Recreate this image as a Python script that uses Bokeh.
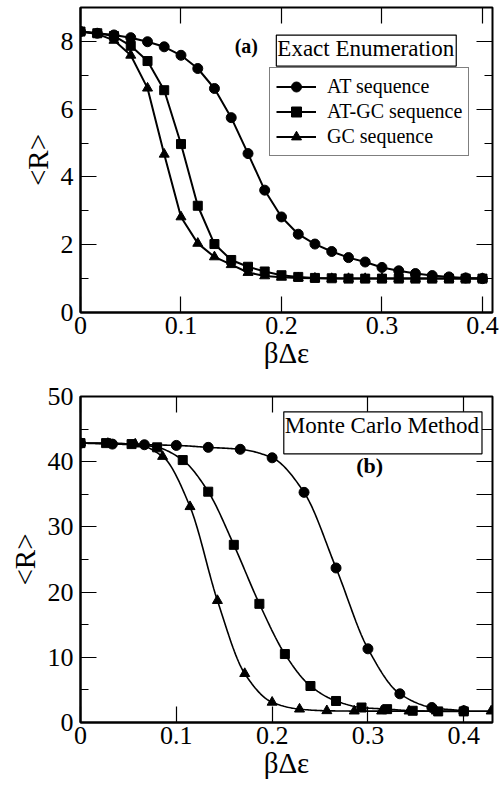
import numpy as np
from bokeh.plotting import figure
from bokeh.layouts import column
from bokeh.models import FixedTicker, Label, Legend, LegendItem, LinearAxis, Range1d
from bokeh.embed import file_html
from bokeh.resources import INLINE

FONT = "Liberation Serif"

# ---------------- data: (a) exact enumeration ----------------
a_x = [0, 0.0167, 0.0333, 0.05, 0.0667, 0.0833, 0.1, 0.1167, 0.1333, 0.15, 0.1667,
       0.1833, 0.2, 0.2167, 0.2333, 0.25, 0.2667, 0.2833, 0.3, 0.3167, 0.3333,
       0.35, 0.3667, 0.3833, 0.4]
a_at = [8.29, 8.24, 8.19, 8.11, 7.99, 7.84, 7.59, 7.20, 6.61, 5.75, 4.69, 3.61, 2.82,
        2.31, 2.02, 1.80, 1.62, 1.49, 1.33, 1.23, 1.15, 1.09, 1.05, 1.02, 1.00]
a_atgc = [8.29, 8.24, 8.16, 7.87, 7.42, 6.56, 4.97, 3.15, 2.02, 1.55, 1.35, 1.21, 1.10,
          1.05, 1.02, 1.01, 1.00, 1.00, 1.00, 1.00, 1.00, 1.00, 1.00, 1.00, 1.00]
a_gc = [8.29, 8.22, 8.03, 7.59, 6.62, 4.67, 2.82, 2.04, 1.64, 1.41, 1.18, 1.08, 1.04,
        1.02, 1.01, 1.00, 1.00, 1.00, 1.00, 1.00, 1.00, 1.00, 1.00, 1.00, 1.00]

# ---------------- data: (b) Monte Carlo ----------------
b_at_x = [0, 0.0333, 0.0667, 0.1, 0.1333, 0.1667, 0.2, 0.2333, 0.2667, 0.3, 0.3333, 0.3667, 0.4]
b_at_y = [42.85, 42.7, 42.6, 42.5, 42.2, 41.9, 40.6, 35.3, 23.7, 11.3, 4.4, 2.3, 1.8]
b_atgc_x = [0, 0.0267, 0.0533, 0.08, 0.1067, 0.1333, 0.16, 0.1867, 0.2133, 0.24, 0.2667,
            0.2933, 0.32, 0.3467, 0.3733, 0.4]
b_atgc_y = [42.85, 42.85, 42.7, 42.2, 40.25, 35.4, 27.25, 18.2, 10.5, 5.6, 3.3, 2.3, 2.05,
            1.8, 1.7, 1.7]
b_gc_x = [0, 0.0286, 0.0571, 0.0857, 0.1143, 0.1429, 0.1714, 0.2, 0.2286, 0.2571, 0.2857,
          0.3143, 0.3429, 0.3714, 0.4, 0.4286]
b_gc_y = [42.85, 42.8, 42.7, 40.8, 33.1, 18.7, 7.5, 3.1, 2.05, 1.8, 1.75, 1.75, 1.75, 1.75,
          1.75, 1.75]

x_ticks = [0, 0.1, 0.2, 0.3, 0.4]
x_tick_labels = ["0", "0.1", "0.2", "0.3", "0.4"]
a_y_ticks = [0, 2, 4, 6, 8]
a_y_minor = [1, 3, 5, 7]
b_y_ticks = [0, 10, 20, 30, 40, 50]
b_y_minor = [5, 15, 25, 35, 45]

series_names = ["AT sequence", "AT-GC sequence", "GC sequence"]
markers = ["circle", "square", "triangle"]
x_title = "βΔε"
y_title = "<R>"


def smooth(xs, ys, n=300):
    """Monotone cubic (Fritsch-Carlson) curve through the data points, for drawing."""
    x = np.asarray(xs, float)
    y = np.asarray(ys, float)
    h = np.diff(x)
    d = np.diff(y) / h
    m = np.zeros_like(y)
    m[0], m[-1] = d[0], d[-1]
    for k in range(1, len(x) - 1):
        if d[k - 1] * d[k] <= 0:
            m[k] = 0.0
        else:
            w1 = 2 * h[k] + h[k - 1]
            w2 = h[k] + 2 * h[k - 1]
            m[k] = (w1 + w2) / (w1 / d[k - 1] + w2 / d[k])
    xx = np.linspace(x[0], x[-1], n)
    idx = np.clip(np.searchsorted(x, xx) - 1, 0, len(x) - 2)
    t = (xx - x[idx]) / h[idx]
    h00 = 2 * t**3 - 3 * t**2 + 1
    h10 = t**3 - 2 * t**2 + t
    h01 = -2 * t**3 + 3 * t**2
    h11 = t**3 - t**2
    yy = h00 * y[idx] + h10 * h[idx] * m[idx] + h01 * y[idx + 1] + h11 * h[idx] * m[idx + 1]
    return xx, yy


def style_axes(p, y_ticks, y_minor, mirror_minor_len):
    xt = FixedTicker(ticks=x_ticks, minor_ticks=[])
    yt = FixedTicker(ticks=y_ticks, minor_ticks=y_minor)
    overrides = {t: l for t, l in zip(x_ticks, x_tick_labels)}
    p.xaxis.ticker = xt
    p.yaxis.ticker = yt
    p.xaxis.major_label_overrides = overrides
    for ax in (p.xaxis[0], p.yaxis[0]):
        ax.axis_line_width = 2
        ax.axis_line_color = "black"
        ax.major_tick_in = 16
        ax.major_tick_out = 0
        ax.minor_tick_in = 8
        ax.minor_tick_out = 0
        ax.major_tick_line_width = 1.2
        ax.minor_tick_line_width = 1.2
        ax.major_label_text_font = FONT
        ax.major_label_text_font_size = "26px"
        ax.major_label_text_color = "black"
        ax.axis_label_text_font = FONT
        ax.axis_label_text_font_size = "29px"
        ax.axis_label_text_font_style = "normal"
        ax.axis_label_text_color = "black"
    p.xaxis.major_label_standoff = 4
    p.xaxis.axis_label_standoff = 0
    p.yaxis.major_label_standoff = 7
    p.yaxis.axis_label_standoff = 4
    # mirrored tick axes (no labels) on top and right
    for loc, tk in (("above", xt), ("right", yt)):
        ax = LinearAxis(ticker=tk, axis_line_color=None,
                        major_label_text_font_size="0px", major_label_text_color=None,
                        major_label_text_alpha=0, major_label_standoff=0,
                        major_tick_in=16, major_tick_out=0,
                        minor_tick_in=mirror_minor_len, minor_tick_out=0,
                        major_tick_line_width=1.2, minor_tick_line_width=1.2)
        p.add_layout(ax, loc)
    p.outline_line_color = "black"
    p.outline_line_width = 2
    p.xgrid.visible = False
    p.ygrid.visible = False


# ---------------- panel (a) ----------------
pa = figure(width=501, height=382, output_backend="svg", toolbar_location=None,
            x_range=Range1d(0, 0.41), y_range=Range1d(0, 9),
            min_border_left=75, min_border_right=9, min_border_top=7, min_border_bottom=70,
            x_axis_label=x_title, y_axis_label=y_title)
style_axes(pa, a_y_ticks, a_y_minor, 8)

items = []
for name, ys, mk in zip(series_names, [a_at, a_atgc, a_gc], markers):
    ln = pa.line(a_x, ys, line_color="black", line_width=2)
    sc = pa.scatter(a_x, ys, marker=mk, size=10 if mk != "square" else 9,
                    fill_color="black", line_color="black")
    items.append(LegendItem(label=name, renderers=[ln, sc]))

leg = Legend(items=items, location=(189, 156), glyph_width=40, glyph_height=25,
             label_height=25, label_standoff=11, padding=6, spacing=0, margin=0,
             border_line_color="black", border_line_width=1.5, background_fill_alpha=1,
             label_text_font=FONT, label_text_font_size="20px", label_text_color="black")
pa.add_layout(leg)

pa.add_layout(Label(x=0.2844, y=7.73, text="Exact Enumeration", text_font=FONT,
                    text_font_size="23px", text_align="center", text_baseline="middle",
                    text_color="black",
                    border_line_color="black", border_line_width=1.2,
                    background_fill_color="white", padding=(1, 2, 1, 5)))
pa.add_layout(Label(x=0.165, y=7.87, text="(a)", text_font=FONT, text_font_size="20px",
                    text_color="black",
                    text_font_style="bold", text_align="center", text_baseline="middle"))

# ---------------- panel (b) ----------------
pb = figure(width=501, height=410, output_backend="svg", toolbar_location=None,
            x_range=Range1d(0, 0.43), y_range=Range1d(0, 50),
            min_border_left=80, min_border_right=2, min_border_top=14, min_border_bottom=70,
            x_axis_label=x_title, y_axis_label=y_title)
style_axes(pb, b_y_ticks, b_y_minor, 16)

for xs, ys, mk in zip([b_at_x, b_atgc_x, b_gc_x], [b_at_y, b_atgc_y, b_gc_y], markers):
    sx, sy = smooth(xs, ys)
    pb.line(sx, sy, line_color="black", line_width=1.6)
    pb.scatter(xs, ys, marker=mk, size=10 if mk != "square" else 9,
               fill_color="black", line_color="black")

pb.add_layout(Label(x=0.3156, y=44.43, text="Monte Carlo Method", text_font=FONT,
                    text_font_size="23px", text_align="center", text_baseline="middle",
                    text_color="black",
                    border_line_color="black", border_line_width=1.2,
                    background_fill_color="white", padding=(1, 3, 1, 16)))
pb.add_layout(Label(x=0.3017, y=39.4, text="(b)", text_font=FONT, text_font_size="22px",
                    text_color="black",
                    text_font_style="bold", text_align="center", text_baseline="middle"))

layout = column(pa, pb, spacing=0)
open("out.html", "w").write(file_html(layout, INLINE))
